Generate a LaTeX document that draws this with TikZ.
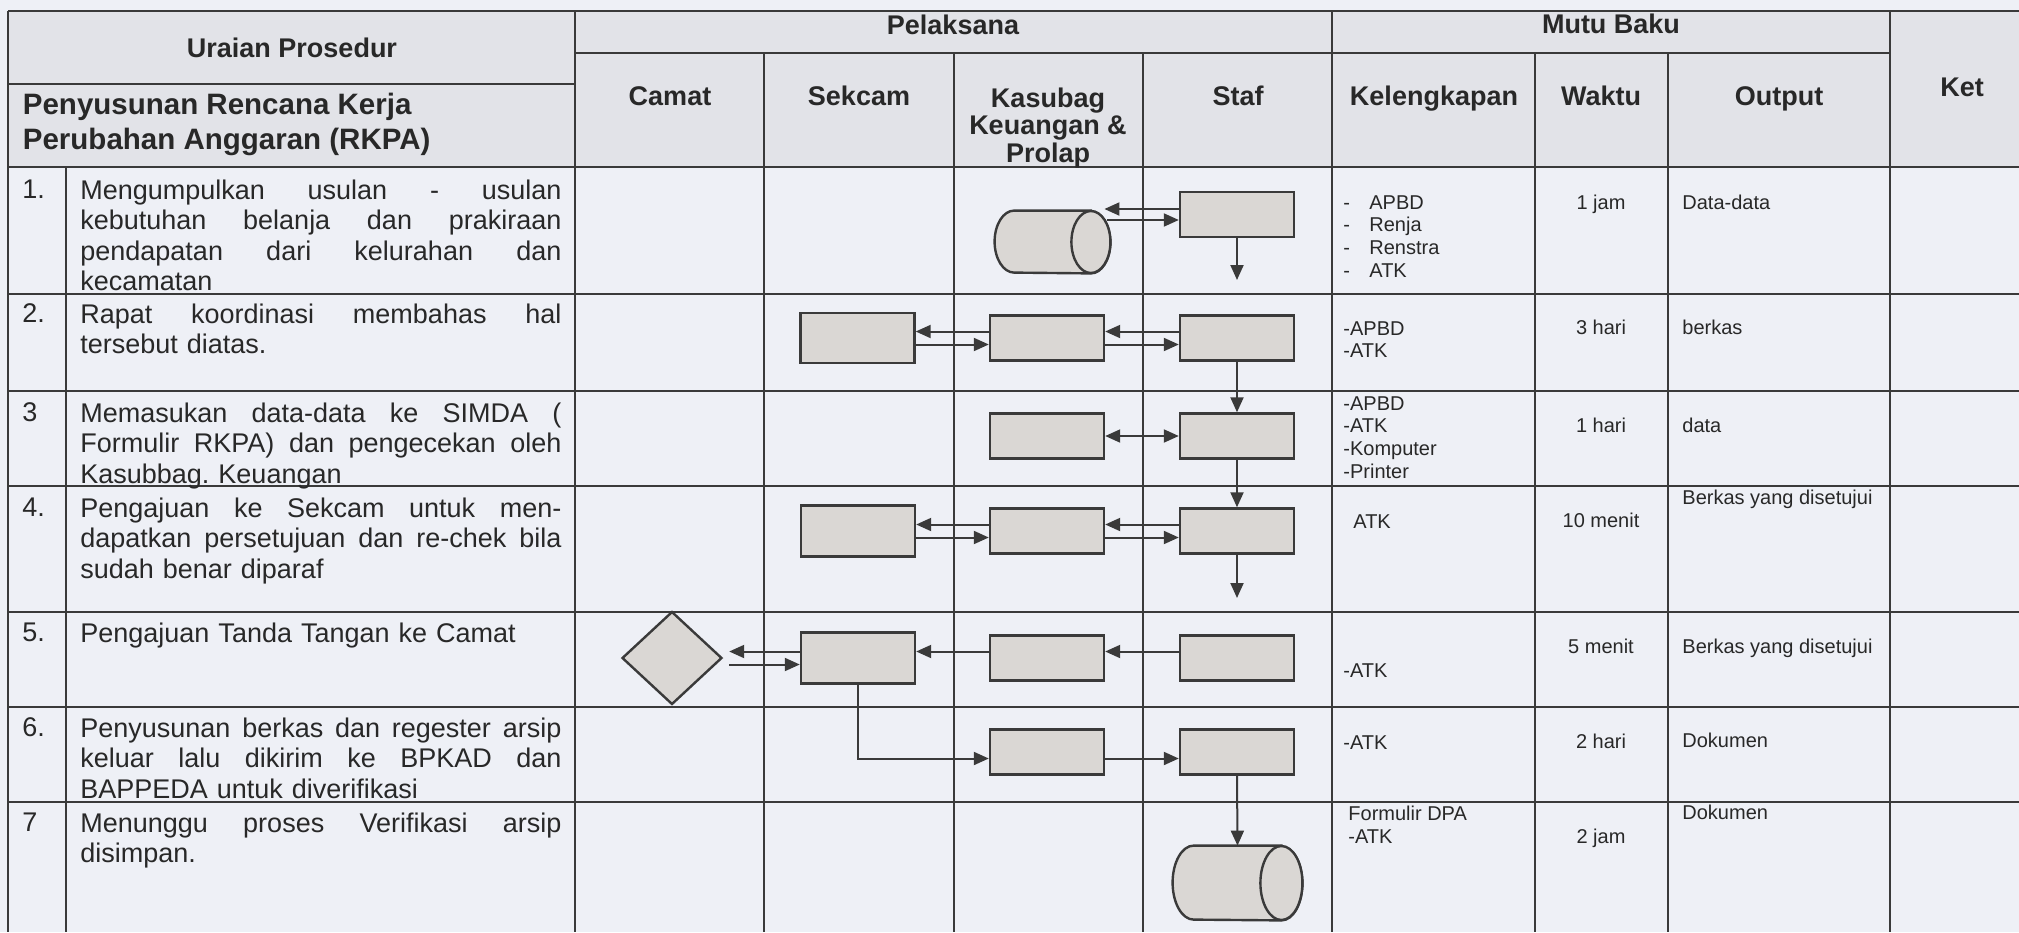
\documentclass[tikz,border=0pt]{standalone}
\usepackage{fontspec}
\setmainfont{Liberation Sans}
\usetikzlibrary{shapes.geometric,arrows.meta,calc}

\definecolor{kertas}{HTML}{EEF0F6}
\definecolor{kepala}{HTML}{E2E3E8}
\definecolor{garis}{HTML}{3A3A3A}
\definecolor{isian}{HTML}{DAD7D4}
\definecolor{tinta}{HTML}{282828}

\begin{document}
\begin{tikzpicture}[
        x=0.5pt, y=-0.5pt,
        tabel/.style={draw=garis, line width=0.8pt},
        kotak/.style={rectangle, draw=garis, fill=isian, line width=1.2pt, minimum width=57pt, minimum height=22.5pt, inner sep=0pt},
        arsip/.style={rectangle, inner sep=0pt},
        tabung/.style={draw=garis, fill=isian, line width=1.2pt},
        keputusan/.style={diamond, draw=garis, fill=isian, line width=1.2pt, minimum width=50pt, minimum height=46.5pt, inner sep=0pt},
        arrow/.style={->, >={Triangle[length=7.5pt, width=6.5pt]}, line width=1pt, draw=garis},
        biarrow/.style={<->, >={Triangle[length=7.5pt, width=6.5pt]}, line width=1pt, draw=garis},
        judul/.style={font=\fontsize{13.5}{13.75}\selectfont\bfseries, text=tinta, inner sep=0pt, anchor=base},
        nomor/.style={font=\fontsize{13.5}{15.25}\selectfont, text=tinta, inner sep=0pt, anchor=north west},
        uraian/.style={nomor, text width=240.5pt, align=left},
        isi/.style={font=\fontsize{10}{11.35}\selectfont, text=tinta, inner sep=0pt, anchor=north west, align=left},
        waktu/.style={font=\fontsize{10}{11.35}\selectfont, text=tinta, inner sep=0pt, anchor=base}
    ]
    \useasboundingbox (0,0) rectangle (2019,932);
    \fill[kertas] (0,0) rectangle (2019,932);
    \fill[kepala] (8,11) rectangle (2019,167);

    % === Tabel ===
    \draw[tabel] (8,11) -- (2019,11);
    \draw[tabel] (575,53) -- (1890,53);
    \draw[tabel] (8,84) -- (575,84);
    \foreach \y in {167,294,391,486,612,707,802}
        \draw[tabel] (8,\y) -- (2019,\y);
    \foreach \x in {8,575,1332,1890}
        \draw[tabel] (\x,11) -- (\x,932);
    \foreach \x in {764,954,1143,1535,1668}
        \draw[tabel] (\x,53) -- (\x,932);
    \draw[tabel] (66,167) -- (66,932);

    % === Kepala tabel ===
    \node[judul] (hUraian) at (292,57.7) {Uraian Prosedur};
    \node[judul, font=\fontsize{14.75}{17.5}\selectfont\bfseries, anchor=north west, align=left] (hJudul) at (22.5,92.4) {Penyusunan Rencana Kerja\\Perubahan Anggaran (RKPA)};
    \node[judul] (hPelaksana) at (953,34.7) {Pelaksana};
    \node[judul] (hMutu) at (1611,33) {Mutu Baku};
    \node[judul] (hKet) at (1962,96.7) {Ket};
    \node[judul] (hCamat) at (670,105.7) {Camat};
    \node[judul] (hSekcam) at (859,105.7) {Sekcam};
    \node[judul, anchor=north, align=center] (hKasubag) at (1048,87.3) {Kasubag\\Keuangan \&\\Prolap};
    \node[judul] (hStaf) at (1238,105.7) {Staf};
    \node[judul] (hKelengkapan) at (1434,105.7) {Kelengkapan};
    \node[judul] (hWaktu) at (1601,105.7) {Waktu};
    \node[judul] (hOutput) at (1779,105.7) {Output};

    % === Uraian ===
    \node[nomor] (n1) at (22,179.3) {1.};
    \node[uraian] (u1) at (80,179.3) {Mengumpulkan\hfill usulan\hfill -\hfill usulan\\ kebutuhan\hfill belanja\hfill dan\hfill prakiraan\\ pendapatan\hfill dari\hfill kelurahan\hfill dan\\ kecamatan};
    \node[nomor] (n2) at (22,303.3) {2.};
    \node[uraian] (u2) at (80,303.3) {Rapat\hfill koordinasi\hfill membahas\hfill hal\\ tersebut diatas.};
    \node[nomor] (n3) at (22,402.3) {3};
    \node[uraian] (u3) at (80,402.3) {Memasukan\hfill data-data\hfill ke\hfill SIMDA\hfill (\\ Formulir\hfill RKPA)\hfill dan\hfill pengecekan\hfill oleh\\ Kasubbag.\ Keuangan};
    \node[nomor] (n4) at (22,497.3) {4.};
    \node[uraian] (u4) at (80,497.3) {Pengajuan\hfill ke\hfill Sekcam\hfill untuk\hfill men-\\ dapatkan\hfill persetujuan\hfill dan\hfill re-chek\hfill bila\\ sudah benar diparaf};
    \node[nomor] (n5) at (22,622.3) {5.};
    \node[uraian] (u5) at (80,622.3) {Pengajuan Tanda Tangan ke Camat};
    \node[nomor] (n6) at (22,717.3) {6.};
    \node[uraian] (u6) at (80,717.3) {Penyusunan\hfill berkas\hfill dan\hfill regester\hfill arsip\\ keluar\hfill lalu\hfill dikirim\hfill ke\hfill BPKAD\hfill dan\\ BAPPEDA untuk diverifikasi};
    \node[nomor] (n7) at (22,812.3) {7};
    \node[uraian] (u7) at (80,812.3) {Menunggu\hfill proses\hfill Verifikasi\hfill arsip\\ disimpan.};

    % === Mutu baku ===
    \node[isi] (k1) at (1343,195) {\makebox[13pt][l]{-}APBD\\\makebox[13pt][l]{-}Renja\\\makebox[13pt][l]{-}Renstra\\\makebox[13pt][l]{-}ATK};
    \node[isi] (k2) at (1343,321) {-APBD\\-ATK};
    \node[isi] (k3) at (1343,396) {-APBD\\-ATK\\-Komputer\\-Printer};
    \node[isi] (k4) at (1353,514) {ATK};
    \node[isi] (k5) at (1343,663) {-ATK};
    \node[isi] (k6) at (1343,735) {-ATK};
    \node[isi] (k7) at (1348,806) {Formulir DPA\\-ATK};

    \node[waktu] (w1) at (1601,209.2) {1 jam};
    \node[waktu] (w2) at (1601,334.2) {3 hari};
    \node[waktu] (w3) at (1601,432.2) {1 hari};
    \node[waktu] (w4) at (1601,527.2) {10 menit};
    \node[waktu] (w5) at (1601,653.2) {5 menit};
    \node[waktu] (w6) at (1601,748.2) {2 hari};
    \node[waktu] (w7) at (1601,843.2) {2 jam};

    \node[waktu, anchor=base west] (o1) at (1682,209.2) {Data-data};
    \node[waktu, anchor=base west] (o2) at (1682,334.2) {berkas};
    \node[waktu, anchor=base west] (o3) at (1682,432.2) {data};
    \node[waktu, anchor=base west] (o4) at (1682,504.2) {Berkas yang disetujui};
    \node[waktu, anchor=base west] (o5) at (1682,653.2) {Berkas yang disetujui};
    \node[waktu, anchor=base west] (o6) at (1682,747.2) {Dokumen};
    \node[waktu, anchor=base west] (o7) at (1682,819.2) {Dokumen};

    % === Bagan alir ===
    \node[arsip, minimum width=57.5pt, minimum height=31pt] (K1) at (1052.5,242) {};
    \draw[tabung] ($(K1.north east)+(-19.5,0)$) -- ($(K1.north west)+(19.5,0)$)
        arc[start angle=90, end angle=270, x radius=9.75pt, y radius=15.5pt]
        -- ($(K1.south east)+(-19.5,0)$)
        arc[start angle=270, end angle=450, x radius=9.75pt, y radius=15.5pt] -- cycle;
    \draw[tabung] ($(K1.east)+(-19.5,0)$) ellipse[x radius=9.75pt, y radius=15.5pt];
    \node[kotak] (S1) at (1237,214.5) {};
    \coordinate (e1) at (1237,280);

    \node[kotak, minimum height=25pt] (P2) at (857.5,338) {};
    \node[kotak] (K2) at (1047,338) {};
    \node[kotak] (S2) at (1237,338) {};

    \node[kotak] (K3) at (1047,436) {};
    \node[kotak] (S3) at (1237,436) {};

    \node[kotak, minimum height=25.5pt] (P4) at (858,531) {};
    \node[kotak] (K4) at (1047,531) {};
    \node[kotak] (S4) at (1237,531) {};
    \coordinate (e4) at (1237,598);

    \node[keputusan] (D5) at (672,658) {};
    \node[kotak, minimum height=25.5pt] (P5) at (858,658) {};
    \node[kotak] (K5) at (1047,658) {};
    \node[kotak] (S5) at (1237,658) {};

    \node[kotak] (K6) at (1047,752) {};
    \node[kotak] (S6) at (1237,752) {};

    \node[arsip, minimum width=64.5pt, minimum height=37pt] (C7) at (1237.5,883) {};
    \draw[tabung] ($(C7.north east)+(-21,0)$) -- ($(C7.north west)+(21,0)$)
        arc[start angle=90, end angle=270, x radius=10.5pt, y radius=18.5pt]
        -- ($(C7.south east)+(-21,0)$)
        arc[start angle=270, end angle=450, x radius=10.5pt, y radius=18.5pt] -- cycle;
    \draw[tabung] ($(C7.east)+(-21,0)$) ellipse[x radius=10.5pt, y radius=18.5pt];

    % baris 1
    \draw[arrow] ($(S1.west)+(0,-5.5)$) -- ($(S1.west -| K1.east)+(-6,-5.5)$);
    \draw[arrow] ($(S1.west -| K1.east)+(-3,5.5)$) -- ($(S1.west)+(0,5.5)$);
    \draw[arrow] (S1.south) -- (e1);
    % baris 2
    \draw[arrow] ([yshift=3.25pt]S2.west) -- ([yshift=3.25pt]K2.east);
    \draw[arrow] ([yshift=-3.25pt]K2.east) -- ([yshift=-3.25pt]S2.west);
    \draw[arrow] ([yshift=3.25pt]K2.west) -- ([yshift=3.25pt]P2.east);
    \draw[arrow] ([yshift=-3.25pt]P2.east) -- ([yshift=-3.25pt]K2.west);
    \draw[arrow] (S2.south) -- (S3.north);
    % baris 3
    \draw[biarrow] (K3.east) -- (S3.west);
    \draw[arrow] (S3.south) -- (S4.north);
    % baris 4
    \draw[arrow] ([yshift=3.25pt]S4.west) -- ([yshift=3.25pt]K4.east);
    \draw[arrow] ([yshift=-3.25pt]K4.east) -- ([yshift=-3.25pt]S4.west);
    \draw[arrow] ([yshift=3.25pt]K4.west) -- ([yshift=3.25pt]P4.east);
    \draw[arrow] ([yshift=-3.25pt]P4.east) -- ([yshift=-3.25pt]K4.west);
    \draw[arrow] (S4.south) -- (e4);
    % baris 5
    \draw[arrow] ([yshift=3.25pt]S5.west) -- ([yshift=3.25pt]K5.east);
    \draw[arrow] ([yshift=3.25pt]K5.west) -- ([yshift=3.25pt]P5.east);
    \draw[arrow] ([yshift=3.25pt]P5.west) -- ([xshift=3pt, yshift=3.25pt]D5.east);
    \draw[arrow] ([xshift=3pt, yshift=-3.25pt]D5.east) -- ([yshift=-3.25pt]P5.west);
    % baris 6
    \draw[arrow] (P5.south) |- ([yshift=-3.25pt]K6.west);
    \draw[arrow] ([yshift=-3.25pt]K6.east) -- ([yshift=-3.25pt]S6.west);
    \draw[arrow] (S6.south) -- (C7.north);
\end{tikzpicture}
\end{document}
